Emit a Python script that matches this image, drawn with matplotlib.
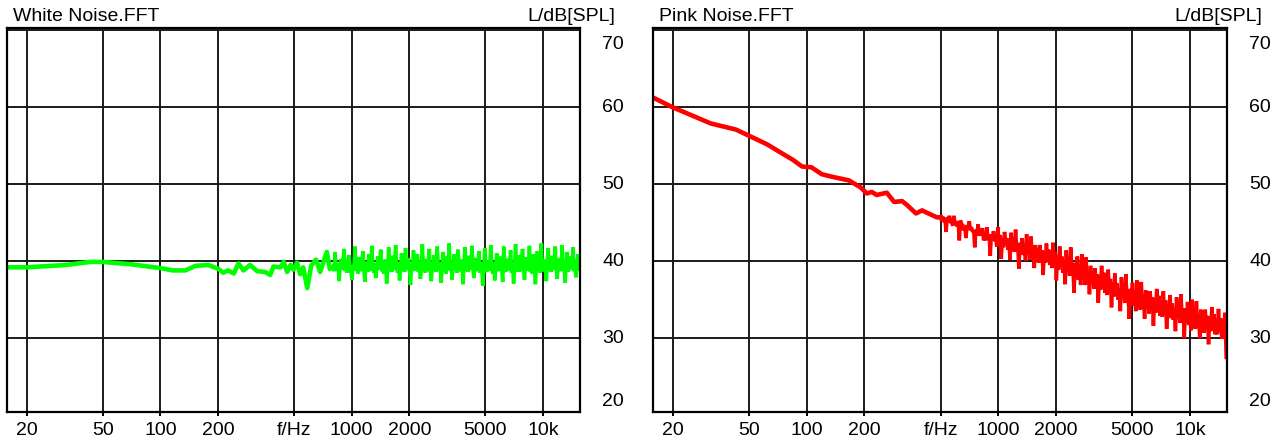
import matplotlib
import numpy as np

matplotlib.use('Agg')
import matplotlib.pyplot as plt
from matplotlib.ticker import NullLocator

plt.rcParams['font.family'] = ['Liberation Sans', 'DejaVu Sans']

# frequency axis
X_TICKS = [20, 50, 100, 200, 500, 1000, 2000, 5000, 10000]
X_TICK_LABELS = ["20", "50", "100", "200", "f/Hz", "1000", "2000", "5000", "10k"]
Y_GRID = [30, 40, 50, 60, 70]
Y_LABELS = ["20", "30", "40", "50", "60", "70"]
Y_LABEL_POS = [21.7, 30, 40, 50, 60, 68.2]

# white noise: smooth low part (f, level)
white_f_low = [15.9, 20, 32, 43, 50, 70, 100, 116, 135, 153, 178, 201, 213, 226, 242,
               256, 272, 294, 321, 353, 375, 390, 425, 441, 460, 479, 496, 518, 538,
               558, 586, 614, 651, 684, 741, 769]
white_l_low = [39.2, 39.2, 39.5, 39.9, 39.9, 39.6, 39.1, 38.8, 38.8, 39.4, 39.5, 39.0,
               38.5, 38.8, 38.4, 39.7, 38.8, 39.5, 38.7, 38.6, 38.2, 39.3, 39.2, 39.9,
               38.6, 39.5, 38.9, 39.8, 38.3, 39.2, 36.5, 39.4, 40.2, 38.6, 41.2, 39.0]
# white noise: dense FFT part 800 Hz .. 15.6 kHz
white_l_high = [
    39.3, 38.7, 41.2, 39.0, 38.8, 39.7, 37.4, 39.2, 40.3, 38.9,
    39.6, 41.6, 38.7, 39.4, 38.5, 39.9, 40.8, 39.1, 38.6, 37.6,
    39.5, 39.0, 41.9, 38.8, 39.6, 38.4, 40.5, 39.3, 38.7, 39.8,
    41.3, 38.9, 37.3, 39.4, 39.9, 38.6, 40.9, 39.2, 38.8, 42.0,
    39.0, 38.5, 39.7, 37.8, 39.3, 40.6, 38.9, 39.5, 41.5, 38.7,
    39.1, 38.4, 40.2, 39.6, 37.1, 39.0, 41.8, 38.8, 39.7, 38.6,
    40.7, 39.2, 38.9, 42.1, 39.4, 38.5, 39.8, 37.5, 39.1, 41.0,
    38.8, 39.6, 38.6, 41.7, 39.3, 38.9, 40.4, 39.0, 36.9, 39.5,
    38.7, 41.4, 39.2, 38.8, 39.9, 40.9, 38.6, 39.4, 37.7, 39.1,
    42.2, 38.9, 39.6, 38.5, 40.3, 39.2, 38.7, 41.6, 39.0, 37.4,
    39.7, 38.8, 40.8, 39.3, 38.6, 41.9, 39.1, 38.9, 39.8, 37.2,
    39.4, 41.2, 38.7, 39.5, 38.4, 40.6, 39.0, 42.3, 38.8, 39.6,
    37.6, 39.2, 40.9, 38.9, 39.7, 38.5, 41.5, 39.1, 38.7, 40.2,
    39.4, 37.0, 39.8, 41.8, 38.8, 39.3, 38.6, 40.7, 39.5, 38.9,
    42.0, 39.1, 37.8, 39.6, 40.4, 38.7, 39.2, 41.3, 38.5, 39.8,
    38.9, 36.8, 39.4, 41.7, 39.0, 38.6, 40.1, 39.5, 38.8, 42.1,
    39.2, 38.4, 39.9, 37.5, 39.3, 41.0, 38.7, 39.6, 40.6, 38.9,
    39.1, 37.3, 41.9, 39.4, 38.6, 39.8, 40.3, 38.8, 39.2, 41.4,
    38.5, 39.7, 37.1, 39.0, 42.2, 38.9, 39.4, 38.6, 40.8, 39.3,
    38.7, 41.6, 39.1, 37.6, 39.8, 40.5, 38.8, 39.5, 42.0, 38.6,
    39.2, 38.4, 40.9, 39.6, 37.0, 39.3, 41.3, 38.9, 39.7, 38.5,
    42.3, 39.0, 38.7, 40.2, 39.4, 37.4, 39.9, 41.7, 38.8, 39.1,
    38.6, 40.7, 39.5, 38.9, 41.9, 39.2, 37.7, 39.6, 40.4, 38.7,
    39.3, 42.1, 38.8, 39.0, 37.2, 39.7, 41.2, 38.6, 39.4, 40.6,
    38.9, 39.5, 41.8, 38.7, 39.2, 37.9, 39.8, 40.9, 38.8, 39.1]

# pink noise: smooth low part (f, level)
pink_f_low = [15.7, 20, 31.6, 42.8, 62, 85.6, 94.6, 106, 120, 134, 166, 191, 206, 219,
              232, 262, 286, 315, 334, 372, 400, 432, 478]
pink_l_low = [61.3, 60.0, 57.9, 57.1, 55.2, 53.1, 52.3, 52.2, 51.3, 51.0, 50.5, 49.6,
              48.8, 49.0, 48.6, 48.9, 47.7, 47.8, 47.3, 46.2, 46.6, 46.2, 45.7]
# pink noise: dense FFT part 500 Hz .. 15.45 kHz
pink_l_high = [
    45.7, 45.2, 45.8, 45.1, 45.5, 43.8, 45.7, 45.2, 45.9, 45.0,
    45.1, 44.6, 45.9, 44.8, 45.2, 44.5, 45.1, 42.7, 45.3, 44.7,
    44.8, 44.0, 44.5, 43.0, 44.7, 44.1, 45.2, 44.0, 44.4, 43.8,
    44.0, 41.8, 44.1, 43.5, 44.8, 43.3, 43.9, 43.4, 44.3, 42.7,
    43.3, 42.7, 44.4, 42.8, 43.5, 40.7, 43.4, 43.0, 43.9, 42.6,
    43.2, 41.9, 44.4, 42.1, 43.4, 40.3, 43.0, 41.8, 43.8, 42.2,
    43.0, 41.5, 42.4, 40.2, 43.7, 41.6, 42.8, 41.2, 44.1, 41.5,
    42.1, 39.0, 42.4, 41.2, 43.0, 40.8, 42.2, 40.1, 43.5, 41.1,
    41.8, 40.2, 43.2, 40.5, 41.5, 39.1, 42.1, 40.4, 41.6, 39.8,
    42.1, 40.1, 41.4, 38.2, 41.2, 39.8, 42.3, 40.0, 41.5, 39.5,
    41.0, 39.1, 42.4, 39.4, 41.2, 37.5, 40.7, 38.9, 41.9, 39.3,
    40.6, 38.5, 39.9, 37.0, 41.4, 38.8, 40.4, 38.1, 41.8, 38.7,
    39.4, 35.9, 39.8, 37.9, 40.6, 37.6, 39.5, 36.9, 40.9, 38.1,
    39.0, 36.9, 40.5, 37.1, 38.6, 35.7, 39.4, 37.2, 38.7, 36.4,
    39.1, 36.6, 38.3, 34.6, 38.1, 36.3, 39.4, 36.4, 38.5, 35.9,
    37.5, 35.6, 38.9, 35.9, 37.7, 34.0, 37.2, 35.4, 38.4, 35.8,
    37.1, 35.0, 36.4, 33.5, 37.9, 35.3, 36.9, 34.6, 38.3, 35.2,
    36.0, 32.5, 36.4, 34.5, 37.2, 34.2, 36.1, 33.5, 37.5, 34.7,
    35.8, 33.7, 37.3, 33.9, 35.4, 32.5, 36.2, 34.0, 35.5, 33.2,
    36.1, 33.6, 35.3, 31.6, 35.1, 33.3, 36.4, 33.4, 35.5, 32.9,
    34.7, 32.8, 36.1, 33.1, 34.9, 31.2, 34.4, 32.6, 35.6, 33.0,
    34.5, 32.4, 33.8, 30.9, 35.3, 32.7, 34.3, 32.0, 35.7, 32.6,
    33.5, 30.0, 33.9, 32.0, 34.7, 31.7, 33.6, 31.0, 35.0, 32.2,
    33.3, 31.2, 34.8, 31.4, 32.9, 30.0, 33.7, 31.5, 33.0, 30.7,
    33.7, 31.2, 32.9, 29.2, 32.7, 30.9, 34.0, 31.0, 33.1, 30.5,
    32.4, 30.5, 33.8, 30.8, 32.6, 29.9, 32.1, 30.3, 33.3, 27.5]

X_LIM = (15.8, 15600)
Y_LIM = (20.4, 70.3)


def draw_panel(fig, rect, title, f_low, l_low, f_high, l_high, color):
    ax = fig.add_axes(rect)
    # smooth low band drawn thick, dense FFT band a bit thinner so the spikes stay sharp
    ax.plot(np.append(f_low, f_high[0]), np.append(l_low, l_high[0]),
            color=color, linewidth=3.3)
    ax.plot(np.insert(f_high, 0, f_low[-1]), np.insert(l_high, 0, l_low[-1]),
            color=color, linewidth=2.6, solid_joinstyle='bevel')
    ax.set_xscale('log')
    ax.set_xlim(X_LIM)
    ax.set_ylim(Y_LIM)
    ax.xaxis.set_minor_locator(NullLocator())
    ax.set_xticks(X_TICKS)
    ax.set_xticklabels(X_TICK_LABELS, fontsize=14)
    ax.set_yticks(Y_GRID)
    ax.set_yticklabels([])
    ax.tick_params(axis='x', direction='out', length=3, width=1.4, pad=4, colors='black')
    ax.tick_params(axis='y', length=0)
    ax.grid(True, color='#1a1a1a', linewidth=1.4)
    ax.set_axisbelow(True)
    for s in ax.spines.values():
        s.set_linewidth(1.6)
        s.set_color('black')

    for lab, pos in zip(Y_LABELS, Y_LABEL_POS):
        ax.text(1.058, pos, lab, transform=ax.get_yaxis_transform(),
                ha='center', va='center', fontsize=14)
    ax.text(0.01, 1.03, title, transform=ax.transAxes, ha='left', va='center', fontsize=14)
    ax.text(1.062, 1.03, "L/dB[SPL]", transform=ax.transAxes, ha='right', va='center', fontsize=14)
    return ax


fig = plt.figure(figsize=(12.84, 4.41), dpi=100)

white_f_high = np.geomspace(800, 15600, len(white_l_high))
pink_f_high = np.geomspace(500, 15450, len(pink_l_high))

draw_panel(fig, [7 / 1284, 1 - 412 / 441, 573 / 1284, 384 / 441], "White Noise.FFT",
           white_f_low, white_l_low, white_f_high, white_l_high, '#00ff00')
draw_panel(fig, [653 / 1284, 1 - 412 / 441, 574 / 1284, 384 / 441], "Pink Noise.FFT",
           pink_f_low, pink_l_low, pink_f_high, pink_l_high, '#ff0000')

fig.savefig("out.png", dpi=100)
plt.close(fig)
